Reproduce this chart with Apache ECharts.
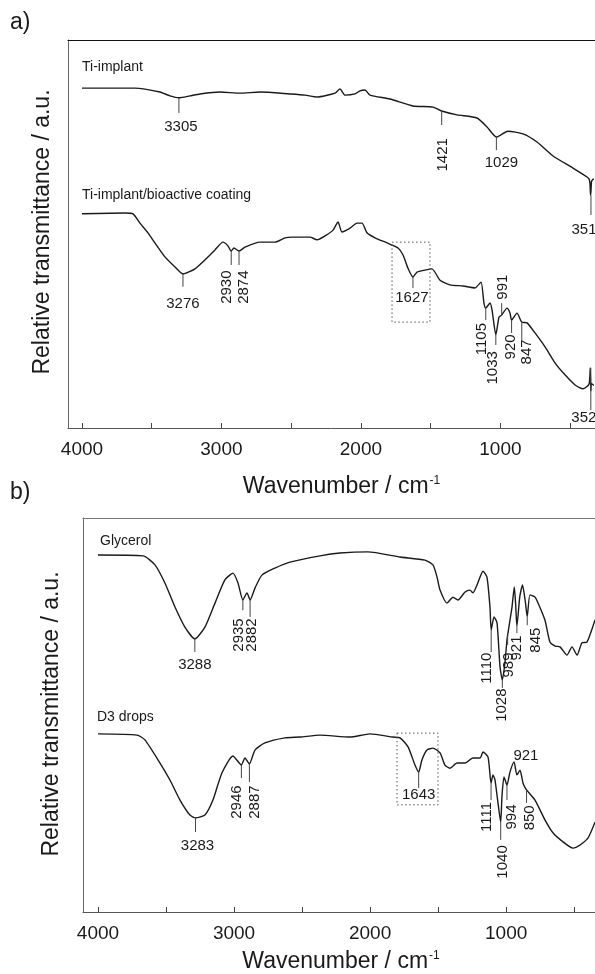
<!DOCTYPE html>
<html>
<head>
<meta charset="utf-8">
<script src="https://cdn.jsdelivr.net/npm/echarts@6/dist/echarts.min.js"></script>
<style>html,body{margin:0;padding:0;background:#fff}#c{width:595px;height:974px}</style>
</head>
<body>
<div id="c"></div>
<script>
// ---------- data: [wavenumber (cm-1), relative transmittance (a.u.)] ----------
const tiImplant = [[4000,87.6],[3620,87.6],[3441,86.6],[3369,85.6],[3305,85.1],[3226,85.6],[3154,86.1],[3010,86.6],[2867,86.3],[2724,86.6],[2509,86.1],[2401,85.8],[2315,85.3],[2186,86.3],[2150,87.4],[2114,85.8],[2043,86.1],[2007,86.9],[1971,87.1],[1935,85.8],[1792,84.8],[1627,83.0],[1483,82.7],[1421,81.7],[1311,80.7],[1168,79.9],[1096,77.6],[1029,75.0],[946,76.5],[838,75.8],[738,73.7],[623,70.1],[480,67.0],[379,64.7],[365,64.2],[358,63.0],[354,60.0],[351,61.0],[347,63.5],[340,64.0],[330,64.2]];
const tiCoating = [[4000,55.2],[3692,55.4],[3634,55.2],[3584,52.8],[3527,50.3],[3477,47.7],[3405,44.1],[3333,41.5],[3276,39.7],[3190,41.0],[3104,43.8],[3046,45.9],[2989,47.9],[2955,47.0],[2930,45.6],[2910,46.4],[2874,45.6],[2831,46.6],[2724,47.9],[2616,47.9],[2544,49.0],[2494,49.2],[2365,49.2],[2315,48.5],[2258,49.5],[2200,51.0],[2164,53.1],[2136,50.5],[2078,51.5],[2028,52.8],[1992,52.8],[1957,50.3],[1899,49.0],[1813,47.7],[1734,46.4],[1698,44.6],[1663,41.2],[1627,38.9],[1598,40.2],[1541,40.7],[1491,41.0],[1433,38.1],[1362,36.9],[1268,36.6],[1182,36.1],[1139,37.6],[1118,32.2],[1105,30.9],[1075,32.2],[1060,30.4],[1033,24.0],[1010,28.6],[991,29.1],[953,30.9],[931,29.6],[920,27.8],[881,29.6],[847,27.3],[809,27.1],[752,24.5],[680,20.9],[609,16.8],[537,13.7],[465,11.1],[408,10.1],[365,11.3],[356,15.5],[352,9.5],[348,11.5],[340,11.2],[330,11.0]];
const glycerol = [[4000,90.6],[3669,90.4],[3581,88.1],[3508,83.5],[3434,77.4],[3361,72.3],[3288,69.3],[3214,72.3],[3140,78.4],[3067,84.3],[3008,86.0],[2971,83.5],[2935,79.2],[2905,81.0],[2882,79.2],[2846,82.2],[2795,85.5],[2699,87.3],[2589,88.8],[2368,90.4],[2221,91.1],[2016,91.4],[1780,90.1],[1597,89.3],[1538,88.1],[1508,85.0],[1486,81.7],[1435,78.4],[1391,79.9],[1354,79.2],[1302,81.2],[1266,81.7],[1244,81.0],[1214,83.0],[1170,86.5],[1141,85.0],[1119,77.4],[1110,71.6],[1089,74.9],[1067,73.4],[1045,62.2],[1028,58.9],[1009,63.2],[994,69.0],[989,70.3],[957,77.4],[940,82.5],[930,78.0],[921,72.5],[900,80.0],[880,83.0],[860,79.0],[845,75.0],[825,80.5],[790,80.0],[773,79.0],[715,74.1],[678,68.5],[640,67.5],[604,67.3],[553,65.2],[516,67.3],[479,65.2],[443,68.3],[406,68.5],[347,74.1]];
const d3Drops = [[4000,45.2],[3713,44.9],[3655,43.7],[3544,37.8],[3471,33.5],[3397,28.4],[3324,24.6],[3283,23.9],[3214,24.6],[3155,28.4],[3089,35.3],[3008,39.6],[2946,37.3],[2920,39.1],[2887,37.6],[2846,41.1],[2773,42.9],[2626,44.2],[2515,44.4],[2368,44.9],[2148,44.4],[2001,45.2],[1832,44.4],[1780,44.2],[1721,41.9],[1670,37.3],[1643,35.5],[1619,38.6],[1582,41.1],[1538,41.6],[1486,40.4],[1450,37.3],[1413,36.5],[1361,37.8],[1302,37.8],[1244,39.1],[1192,39.1],[1170,40.6],[1133,39.3],[1111,32.7],[1097,34.8],[1082,33.5],[1060,27.7],[1040,22.8],[1031,29.2],[1016,34.3],[994,32.2],[972,35.5],[942,38.1],[921,34.8],[898,36.0],[876,32.7],[850,31.0],[788,28.4],[715,23.4],[656,20.1],[582,17.8],[509,16.2],[457,17.0],[398,18.8],[347,22.8]];

// tick labels
const tickValues = [4000,3500,3000,2500,2000,1500,1000,500];
const tickLabels = [4000,3000,2000,1000];

// peak annotations (wavenumbers)
const peaksTop = [3305,1421,1029,351,3276,2930,2874,1627,1105,1033,991,920,847,352];
const peaksBottom = [3288,2935,2882,1110,1028,989,921,845,3283,2946,2887,1643,1111,1040,994,921,850];
// highlighted regions [wn1, t1, wn2, t2]
const boxTop = [1777,47.9,1505,27.3];
const boxBottom = [1802,45.4,1501,27.2];

// annotation layout: [tick start, tick end, label centre (a.u.), rotated, dx px]
const layoutTop = [[85.1,81.2,77.6,0,2],[81.7,78.1,70.4,1,1],[75.0,71.6,68.3,0,5],[60.0,54.9,51.0,0,-7],
  [39.7,36.4,32.0,0,0],[45.6,42.0,36.3,1,-4],[45.6,42.0,36.3,1,5],[38.9,36.1,33.5,0,-1],
  [30.9,27.8,22.9,1,-4],[24.0,21.4,15.5,1,-3],[29.1,32.2,36.3,1,1],[27.8,24.5,20.9,1,-1],[27.3,22.7,19.6,1,5],[15.5,4.6,2.6,0,-7]];
const layoutBottom = [[69.3,66.0,62.7,0,0],[79.2,76.6,70.3,1,-4],[79.2,74.9,70.3,1,2],[71.6,66.0,61.9,1,-4],
  [58.9,56.9,52.5,1,0],[70.3,67.8,62.7,1,1],[72.5,70.8,67.0,1,0],[75.0,72.8,69.0,1,9],
  [23.9,20.3,16.8,0,2],[37.3,34.0,27.9,1,-5],[37.6,33.0,27.9,1,5],[35.5,31.5,29.7,0,0],
  [32.7,28.4,24.1,1,-4],[22.8,18.3,12.7,1,2],[32.2,28.4,24.1,1,5],[39.6,39.6,39.6,0,9],[31.0,27.7,23.9,1,3]];

const FONT = "'Liberation Sans', Arial, Helvetica, sans-serif";
const INK = '#1a1a1a';

function annot(peaks, layout, idx, box) {
  return {
    type: 'custom', xAxisIndex: idx, yAxisIndex: idx, clip: false, silent: true, z: 5,
    data: peaks.map((w, i) => [w, layout[i][0]]),
    renderItem: function (params, api) {
      const i = params.dataIndex, w = peaks[i], L = layout[i];
      const a = api.coord([w, L[0]]), b = api.coord([w, L[1]]), c = api.coord([w, L[2]]);
      const ch = [];
      if (L[0] !== L[1]) ch.push({type: 'line', shape: {x1: a[0], y1: a[1], x2: b[0], y2: b[1]}, style: {stroke: '#444', lineWidth: 1}});
      ch.push({type: 'text', x: c[0] + L[4], y: c[1], rotation: L[3] ? Math.PI / 2 : 0,
        style: {text: String(w), x: 0, y: 0, textAlign: 'center', textVerticalAlign: 'middle', fontSize: 15, fontFamily: FONT, fill: INK}});
      if (i === 0) {
        const p = api.coord([box[0], box[1]]), q = api.coord([box[2], box[3]]);
        ch.push({type: 'rect', shape: {x: p[0], y: p[1], width: q[0] - p[0], height: q[1] - p[1]},
          style: {fill: 'none', stroke: '#555', lineWidth: 1, lineDash: [1.5, 2.5]}});
      }
      return {type: 'group', children: ch};
    }
  };
}

function xAxisBottom(idx, min, max, nameGap, namePad) {
  return {
    type: 'value', gridIndex: idx, position: 'bottom', inverse: true, min: min, max: max,
    axisLine: {show: true, lineStyle: {color: '#555', width: 1}},
    axisTick: {show: true, inside: true, length: 5, customValues: tickValues, lineStyle: {color: '#444'}},
    axisLabel: {show: true, customValues: tickLabels, margin: 12, fontSize: 19, fontFamily: FONT, color: INK,
      formatter: function (v) { return String(v); }},
    splitLine: {show: false},
    name: '{a|Wavenumber / cm}{b|-1}', nameLocation: 'middle', nameGap: nameGap,
    nameTextStyle: {padding: namePad, rich: {
      a: {fontSize: 23, fontFamily: FONT, color: INK},
      b: {fontSize: 12, fontFamily: FONT, color: INK, verticalAlign: 'top', padding: [0, 0, 8, 1]}}}
  };
}
function xAxisTop(idx, min, max, color) {
  return {type: 'value', gridIndex: idx, position: 'top', inverse: true, min: min, max: max,
    axisLine: {show: true, onZero: false, lineStyle: {color: color, width: 1.2}},
    axisTick: {show: false}, axisLabel: {show: false}, splitLine: {show: false}};
}
function yAxis(idx) {
  return {type: 'value', gridIndex: idx, min: 0, max: 100,
    axisLine: {show: true, lineStyle: {color: '#666'}}, axisTick: {show: false},
    axisLabel: {show: false}, splitLine: {show: false}};
}
function line(data, idx) {
  return {type: 'line', xAxisIndex: idx, yAxisIndex: idx, data: data, showSymbol: false, symbol: 'none',
    smooth: 0.2, lineStyle: {color: INK, width: 1.4}, silent: true, animation: false};
}
function txt(x, y, s, size, rot) {
  return {type: 'text', x: x, y: y, rotation: rot || 0,
    style: {text: s, fontSize: size, fontFamily: FONT, fill: INK, textAlign: rot ? 'center' : 'left', textVerticalAlign: 'middle'}};
}

const chart = echarts.init(document.getElementById('c'), null, {renderer: 'canvas'});
chart.setOption({
  animation: false,
  backgroundColor: '#fff',
  grid: [
    {left: 68, top: 40, right: 0, height: 388},
    {left: 83, top: 518, right: 0, height: 394}
  ],
  xAxis: [
    xAxisBottom(0, 322, 4100, 47, [0, 0, 0, 20]),
    xAxisBottom(1, 347, 4110, 38, [0, 0, 0, 4]),
    xAxisTop(0, 322, 4100, '#111'),
    xAxisTop(1, 347, 4110, '#777')
  ],
  yAxis: [yAxis(0), yAxis(1)],
  series: [
    line(tiImplant, 0), line(tiCoating, 0),
    line(glycerol, 1), line(d3Drops, 1),
    annot(peaksTop, layoutTop, 0, boxTop),
    annot(peaksBottom, layoutBottom, 1, boxBottom)
  ],
  graphic: [
    txt(10, 23, 'a)', 23), txt(10, 493, 'b)', 23),
    txt(43, 232, 'Relative transmittance / a.u.', 23, Math.PI / 2),
    txt(52, 714, 'Relative transmittance / a.u.', 23, Math.PI / 2),
    txt(82, 67, 'Ti-implant', 14), txt(82, 195, 'Ti-implant/bioactive coating', 14),
    txt(100, 541, 'Glycerol', 14), txt(97, 717, 'D3 drops', 14)
  ]
});
</script>
</body>
</html>
